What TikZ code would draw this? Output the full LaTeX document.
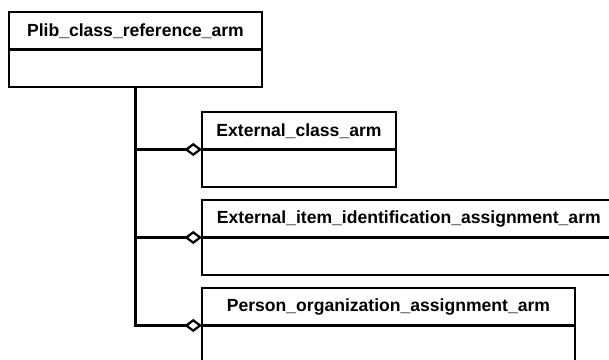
\documentclass[tikz,border=0pt]{standalone}
\usepackage{fontspec}
\setmainfont{Liberation Sans}
\usetikzlibrary{arrows.meta}
\usetikzlibrary{positioning}

\begin{document}
\begin{tikzpicture}[x=0.02cm,y=-0.02cm,
    head/.style={draw, line width=1.4pt, minimum height=0.75cm, inner sep=0pt, outer sep=0pt, font=\bfseries},
    body/.style={draw, line width=1.4pt, minimum height=0.75cm, inner sep=0pt, outer sep=0pt},
    link/.style={line width=1.3pt, -{Diamond[open, length=10pt, width=7.5pt]}}]
    \useasboundingbox (0,0) rectangle (609,359);
    \clip (0,0) rectangle (609,359);
    % class boxes: name part on top, empty part below
    \node[head, minimum width=5.06cm, anchor=north west]     (plib)      at (9,12)    {Plib\_class\_reference\_arm};
    \node[body, minimum width=5.06cm, below=0pt of plib]     (plib_body) {};
    \node[head, minimum width=3.88cm, anchor=north west]     (ext_cls)   at (202,112) {External\_class\_arm};
    \node[body, minimum width=3.88cm, below=0pt of ext_cls]  (ext_cls_body) {};
    \node[head, text width=7.76cm, inner xsep=0.3cm, align=left, anchor=north west] (ext_item) at (202,200) {External\_item\_identification\_assignment\_arm};
    \node[body, minimum width=8.36cm, below=0pt of ext_item] (ext_item_body) {};
    \node[head, minimum width=7.46cm, anchor=north west]     (pers_org)  at (202,288) {Person\_organization\_assignment\_arm};
    \node[body, minimum width=7.46cm, below=0pt of pers_org] (pers_org_body) {};
    % aggregation links
    \draw[link] (plib_body.south) |- (ext_cls.south west);
    \draw[link] (plib_body.south) |- (ext_item.south west);
    \draw[link] (plib_body.south) |- (pers_org.south west);
\end{tikzpicture}
\end{document}
